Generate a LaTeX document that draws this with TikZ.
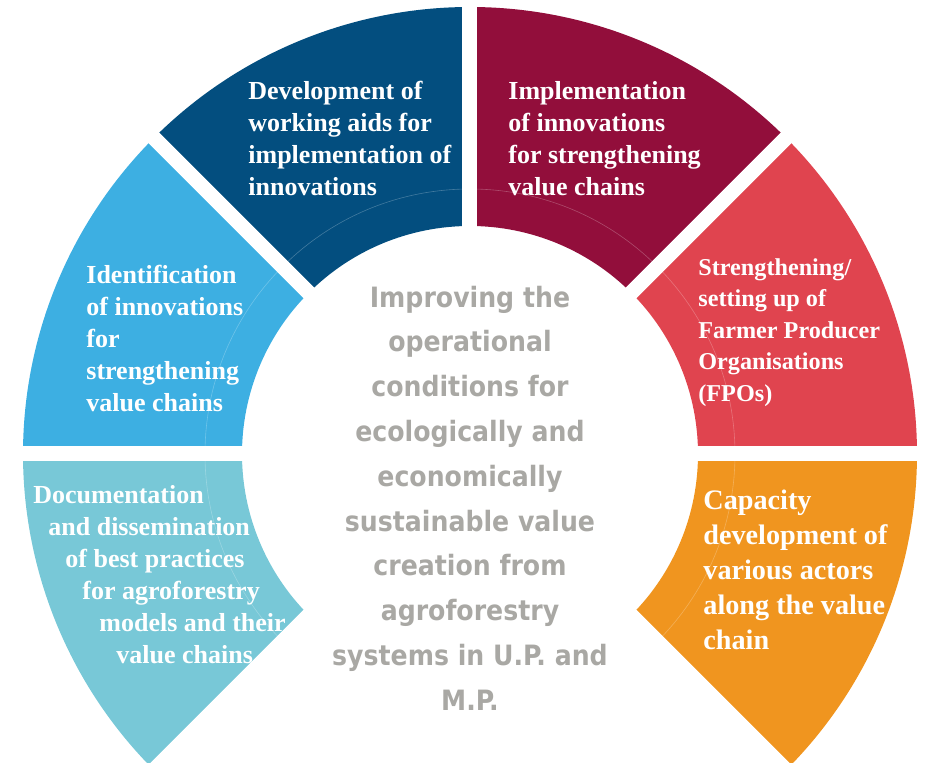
\documentclass[tikz,border=0pt]{standalone}
\usepackage{fontspec}
\setmainfont{Liberation Serif}
\newfontfamily\centrefont{DejaVu Sans Condensed Bold}
\usetikzlibrary{positioning}
\definecolor{idblue}{HTML}{3DAFE2}
\definecolor{aidblue}{HTML}{034E7F}
\definecolor{implred}{HTML}{920E3B}
\definecolor{fpored}{HTML}{E0444F}
\definecolor{capaorange}{HTML}{F0951F}
\definecolor{docuteal}{HTML}{78C8D7}
\definecolor{centregrey}{HTML}{A9A8A4}
\tikzset{seg label/.style={text=white,font=\bfseries\fontsize{13}{16}\selectfont,align=left,inner sep=0pt,anchor=north west},
  goal text/.style={text=centregrey,font=\centrefont\fontsize{14}{22.4}\selectfont,align=center,inner sep=0pt}}

\begin{document}
\begin{tikzpicture}[x=0.5pt,y=0.5pt]
\useasboundingbox (-470,-309) rectangle (457,454);
\clip (-470,-309) rectangle (457,454);
\foreach \a/\b/\c in {135/180/idblue,90/135/aidblue,45/90/implred,0/45/fpored,180/225/docuteal,-45/0/capaorange}
  \fill[\c] (\a:228) arc[start angle=\a,end angle=\b,radius=228] -- (\b:447) arc[start angle=\b,end angle=\a,radius=447] -- cycle;
\draw[white,opacity=.25,line width=.3pt] (0,0) circle[radius=265];
\foreach \a in {0,45,90,135,180,225,315}
  \draw[white,line width=7.5pt] (\a:200) -- (\a:470);
\node[seg label] (aids) at (-222,373) {Development of\\working aids for\\implementation of\\innovations};
\node[seg label] (implement) at (38,373) {Implementation\\of innovations\\for strengthening\\value chains};
\node[seg label] (identify) at (-384,189) {Identification\\of innovations\\for\\strengthening\\value chains};
\node[seg label,font=\bfseries\fontsize{12.1}{15.8}\selectfont] (fpo) at (228,196) {Strengthening/\\setting up of\\Farmer Producer\\Organisations\\(FPOs)};
\node[seg label] (document) at (-437,-31) {Documentation\\\hspace*{7.5pt}and dissemination\\\hspace*{16pt}of best practices\\\hspace*{24.5pt}for agroforestry\\\hspace*{33pt}models and their\\\hspace*{41.5pt}value chains};
\node[seg label,font=\bfseries\fontsize{14.1}{17.5}\selectfont] (capacity) at (233,-36) {Capacity\\development of\\various actors\\along the value\\chain};
\node[goal text] (goal) at (0,-44) {Improving the\\operational\\conditions for\\ecologically and\\economically\\sustainable value\\creation from\\agroforestry\\systems in U.P. and\\M.P.};
\end{tikzpicture}
\end{document}
